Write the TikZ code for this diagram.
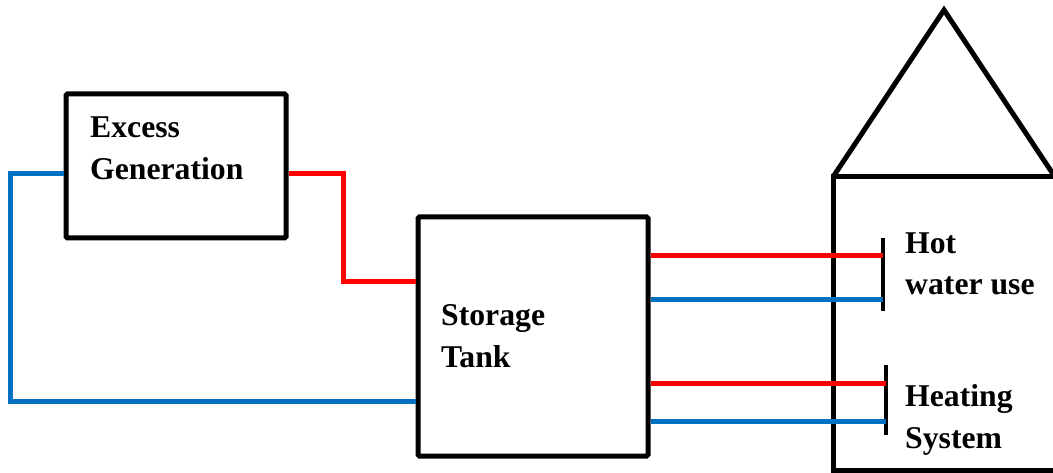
\documentclass[tikz,border=0pt]{standalone}
\usepackage{fontspec}
\setmainfont{Liberation Serif}
\definecolor{pipehot}{rgb}{1.0,0.0,0.0}
\definecolor{pipecold}{rgb}{0.0,0.4392,0.7529}
\begin{document}
\begin{tikzpicture}[x=1pt,y=-1pt,
  unitbox/.style={draw=black,line width=5pt,rounded corners=1.5pt,minimum width=#1,inner sep=0pt},
  boxlabel/.style={anchor=base west,align=left,inner sep=0pt,font=\fontsize{31.7}{42}\selectfont\bfseries},
  hot/.style={pipehot,line width=5pt},
  cold/.style={pipecold,line width=5pt},
  tap/.style={black,line width=4.5pt}]
\useasboundingbox (0,0) rectangle (1053,473);
% house
\draw[black,line width=5pt] (833,177) -- (944,10) -- (1055,177);
\draw[black,line width=5pt] (1060,177) -- (833,177) -- (833,470) -- (1060,470);
% boxes
\node[unitbox=220pt,minimum height=144pt] (gen) at (176,166) {};
\node[unitbox=230pt,minimum height=239pt] (tank) at (533,336.5) {};
\node[boxlabel] (gentxt) at (90,180) {Excess\\Generation};
\node[boxlabel] (tanktxt) at (441,367) {Storage\\Tank};
% taps in the house
\coordinate (hwtop) at (883,238);
\coordinate (hwbot) at (883,311);
\coordinate (hstop) at (886,365);
\coordinate (hsbot) at (886,435);
\draw[tap] (hwtop) -- (hwbot);
\draw[tap] (hstop) -- (hsbot);
\node[boxlabel] (hwtxt) at (905,295) {Hot\\water use};
\node[boxlabel] (hstxt) at (905,448) {Heating\\System};
% pipes
\coordinate (ret) at (10,401);
\draw[hot] ([yshift=-8pt]gen.east) -- ++(55pt,0pt) |- (tank.west |- 0,282);
\draw[cold] ([yshift=-8pt]gen.west) -| (ret) -- (tank.west |- ret);
\draw[hot] (tank.east |- 0,256) -- (hwtop |- 0,256);
\draw[cold] (tank.east |- 0,300) -- (hwtop |- 0,300);
\draw[hot] (tank.east |- 0,383) -- (hstop |- 0,383);
\draw[cold] (tank.east |- 0,421) -- (hstop |- 0,421);
\end{tikzpicture}
\end{document}
